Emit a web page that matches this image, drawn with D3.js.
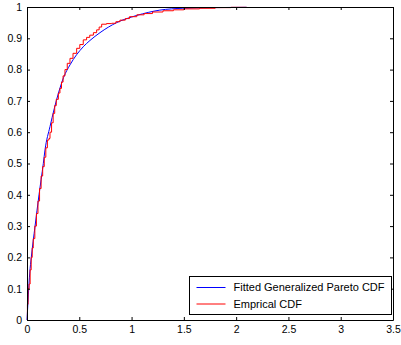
<!DOCTYPE html>
<html>
<head>
<meta charset="utf-8">
<script src="https://cdn.jsdelivr.net/npm/d3@7"></script>
<style>
  html, body { margin: 0; padding: 0; background: #fff; }
  svg { display: block; }
</style>
</head>
<body>
<div id="chart"></div>
<script>
// tick values
const xTicks = [0, 0.5, 1, 1.5, 2, 2.5, 3, 3.5];
const yTicks = [0, 0.1, 0.2, 0.3, 0.4, 0.5, 0.6, 0.7, 0.8, 0.9, 1];

// fitted GPD cdf
const fitX = [0, 0.005, 0.013, 0.026, 0.041, 0.077, 0.115, 0.156, 0.172, 0.22, 0.3, 0.35,
              0.411, 0.538, 0.602, 0.698, 0.857, 1.0, 1.049, 1.27, 1.49, 1.75, 2.1];
const fitY = [0, 0.03, 0.08, 0.15, 0.2, 0.3, 0.4, 0.5, 0.543, 0.618, 0.724, 0.775,
              0.815, 0.873, 0.893, 0.918, 0.95, 0.968, 0.973, 0.99, 0.996, 0.998, 0.999];

const ecdfX = [0, 0.004, 0.01, 0.02, 0.03, 0.04, 0.05, 0.06, 0.075, 0.09, 0.105, 0.12, 0.135,
               0.15, 0.165, 0.18, 0.195, 0.21, 0.22, 0.235, 0.25, 0.265, 0.28, 0.3, 0.315,
               0.33, 0.345, 0.363, 0.385, 0.411, 0.44, 0.475, 0.505, 0.538, 0.57, 0.6, 0.635,
               0.666, 0.69, 0.714, 0.76, 0.81, 0.85, 0.889, 0.94, 0.98, 1.05, 1.12, 1.2, 1.3,
               1.4, 1.5, 1.65, 1.8, 1.95, 2.1];
const ecdfY = [0, 0.05, 0.1, 0.115, 0.16, 0.2, 0.23, 0.26, 0.3, 0.34, 0.38, 0.42, 0.46,
               0.49, 0.52, 0.55, 0.575, 0.58, 0.6, 0.63, 0.66, 0.685, 0.705, 0.725, 0.74,
               0.76, 0.78, 0.8, 0.82, 0.836, 0.852, 0.868, 0.88, 0.895, 0.903, 0.91, 0.918,
               0.927, 0.936, 0.945, 0.947, 0.948, 0.953, 0.958, 0.963, 0.969, 0.975, 0.979, 0.984, 0.988,
               0.991, 0.994, 0.996, 0.998, 0.999, 1];

const legendLabels = ["Fitted Generalized Pareto CDF", "Emprical CDF"];
const legendColors = ["#0000ff", "#ff0000"];

const width = 401, height = 345;
const plotL = 27, plotR = 393, plotT = 7, plotB = 320;

const svg = d3.select("#chart").append("svg")
    .attr("width", width)
    .attr("height", height)
    .attr("font-family", "'Liberation Sans', Arial, sans-serif");

const x = d3.scaleLinear().domain([0, 3.5]).range([plotL, plotR]);
const y = d3.scaleLinear().domain([0, 1]).range([plotB, plotT]);

const fmt = d => String(d);

// curves
const fit = fitX.map((v, i) => [v, fitY[i]]);
const ecdf = ecdfX.map((v, i) => [v, ecdfY[i]]);

svg.append("path")
    .datum(fit)
    .attr("fill", "none")
    .attr("stroke", legendColors[0])
    .attr("stroke-width", 1)
    .attr("d", d3.line().x(d => x(d[0])).y(d => y(d[1])).curve(d3.curveMonotoneX));

svg.append("path")
    .datum(ecdf)
    .attr("fill", "none")
    .attr("stroke", legendColors[1])
    .attr("stroke-width", 1)
    .attr("d", d3.line().x(d => x(d[0])).y(d => y(d[1])).curve(d3.curveStepAfter));

// axes (ticks inside, box on)
const styleAxis = g => {
  g.selectAll(".domain").attr("stroke", "#000");
  g.selectAll(".tick line").attr("stroke", "#000");
  g.selectAll(".tick text").attr("fill", "#000").attr("font-size", 10.5);
};

svg.append("g")
    .attr("transform", `translate(0,${plotB})`)
    .call(d3.axisBottom(x).tickValues(xTicks).tickFormat(fmt)
      .tickSizeInner(-3).tickSizeOuter(0).tickPadding(6))
    .call(styleAxis)
    .attr("font-family", null);

svg.append("g")
    .attr("transform", `translate(0,${plotT})`)
    .call(d3.axisTop(x).tickValues(xTicks).tickFormat("")
      .tickSizeInner(-3).tickSizeOuter(0))
    .call(styleAxis);

svg.append("g")
    .attr("transform", `translate(${plotL},0)`)
    .call(d3.axisLeft(y).tickValues(yTicks).tickFormat(fmt)
      .tickSizeInner(-3).tickSizeOuter(0).tickPadding(5))
    .call(styleAxis)
    .attr("font-family", null);

svg.append("g")
    .attr("transform", `translate(${plotR},0)`)
    .call(d3.axisRight(y).tickValues(yTicks).tickFormat("")
      .tickSizeInner(-3).tickSizeOuter(0))
    .call(styleAxis);

// legend
const lg = svg.append("g").attr("transform", "translate(189.5,276.5)");
lg.append("rect")
    .attr("width", 202)
    .attr("height", 38)
    .attr("fill", "#fff")
    .attr("stroke", "#000")
    .attr("stroke-width", 1);

const rows = lg.selectAll("g.row")
  .data(legendLabels)
  .join("g")
    .attr("class", "row")
    .attr("transform", (d, i) => `translate(0,${11 + i * 16.5})`);

rows.append("line")
    .attr("x1", 7).attr("x2", 36)
    .attr("stroke", (d, i) => legendColors[i])
    .attr("stroke-width", 1);

rows.append("text")
    .attr("x", 44)
    .attr("dy", "0.35em")
    .attr("font-size", 11)
    .attr("fill", "#000")
    .text(d => d);
</script>
</body>
</html>
